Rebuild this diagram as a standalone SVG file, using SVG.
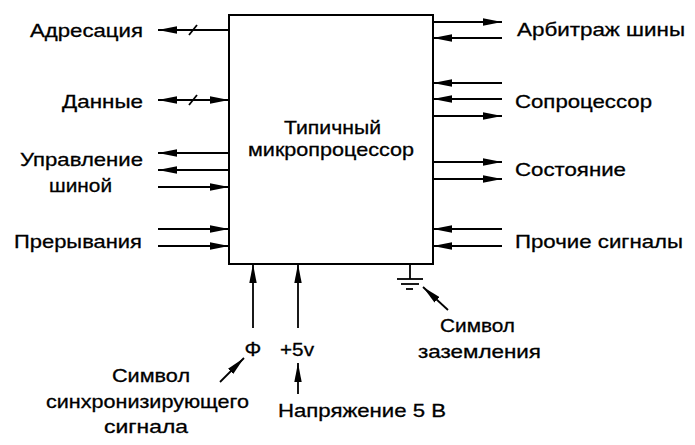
<svg xmlns="http://www.w3.org/2000/svg" width="695" height="445" viewBox="0 0 695 445">
<defs>
<marker id="ah" markerUnits="userSpaceOnUse" markerWidth="20" markerHeight="8" refX="19" refY="4" orient="auto-start-reverse">
<path d="M0,0.3 L19,4 L0,7.7 z" fill="#000"/>
</marker>
<style>
text{font-family:"Liberation Sans",Arial,sans-serif;font-size:19px;fill:#000;stroke:#000;stroke-width:0.3}
.c{text-anchor:middle}
line{stroke:#000;stroke-width:1.8;fill:none}
.a{marker-end:url(#ah)}
.d{marker-start:url(#ah);marker-end:url(#ah)}
</style>
</defs>
<rect width="695" height="445" fill="#fff"/>
<g id="cpu">
<rect x="229" y="15" width="204" height="249" fill="#fff" stroke="#000" stroke-width="2"/>
<text x="284" y="134" textLength="97" lengthAdjust="spacingAndGlyphs">Типичный</text>
<text x="248" y="156" textLength="166" lengthAdjust="spacingAndGlyphs">микропроцессор</text>
</g>
<g id="connectors">
<line class="a" x1="229" y1="30" x2="158" y2="30"/>
<line x1="189" y1="35" x2="197" y2="25"/>
<line class="d" x1="158" y1="100" x2="229" y2="100"/>
<line x1="189" y1="105" x2="197" y2="95"/>
<line class="a" x1="229" y1="153" x2="158" y2="153"/>
<line class="a" x1="229" y1="170" x2="158" y2="170"/>
<line class="a" x1="158" y1="187" x2="229" y2="187"/>
<line class="a" x1="158" y1="229" x2="229" y2="229"/>
<line class="a" x1="158" y1="246" x2="229" y2="246"/>
<line class="a" x1="433" y1="22" x2="502" y2="22"/>
<line class="a" x1="502" y1="38" x2="433" y2="38"/>
<line class="a" x1="502" y1="83" x2="433" y2="83"/>
<line class="a" x1="502" y1="99" x2="433" y2="99"/>
<line class="a" x1="433" y1="116" x2="502" y2="116"/>
<line class="a" x1="433" y1="162" x2="502" y2="162"/>
<line class="a" x1="433" y1="179" x2="502" y2="179"/>
<line class="a" x1="502" y1="229" x2="433" y2="229"/>
<line class="a" x1="502" y1="246" x2="433" y2="246"/>
<line class="a" x1="253" y1="328" x2="253" y2="264"/>
<line class="a" x1="298" y1="328" x2="298" y2="264"/>
<line class="a" x1="220" y1="382" x2="244" y2="358"/>
<line class="a" x1="298" y1="394" x2="298" y2="363"/>
<line class="a" x1="448" y1="310" x2="423" y2="287"/>
</g>
<g id="ground">
<line x1="410" y1="264" x2="410" y2="279"/>
<line x1="397" y1="279" x2="423" y2="279"/>
<line x1="401" y1="284" x2="419" y2="284"/>
<line x1="406" y1="289" x2="413" y2="289"/>
</g>
<g id="labels-left">
<text x="30" y="37" textLength="113" lengthAdjust="spacingAndGlyphs">Адресация</text>
<text x="62" y="108" textLength="81" lengthAdjust="spacingAndGlyphs">Данные</text>
<text x="20" y="166" textLength="123" lengthAdjust="spacingAndGlyphs">Управление</text>
<text x="49" y="192" textLength="63" lengthAdjust="spacingAndGlyphs">шиной</text>
<text x="14" y="248" textLength="128" lengthAdjust="spacingAndGlyphs">Прерывания</text>
</g>
<g id="labels-right">
<text x="517" y="36" textLength="168" lengthAdjust="spacingAndGlyphs">Арбитраж шины</text>
<text x="515" y="108" textLength="137" lengthAdjust="spacingAndGlyphs">Сопроцессор</text>
<text x="515" y="176" textLength="111" lengthAdjust="spacingAndGlyphs">Состояние</text>
<text x="515" y="248" textLength="168" lengthAdjust="spacingAndGlyphs">Прочие сигналы</text>
</g>
<g id="labels-bottom">
<text class="c" x="253" y="356" style="font-size:21px">Φ</text>
<text x="280" y="356" textLength="34" lengthAdjust="spacingAndGlyphs">+5v</text>
<text x="112" y="382" textLength="78" lengthAdjust="spacingAndGlyphs">Символ</text>
<text x="46" y="408" textLength="203" lengthAdjust="spacingAndGlyphs">синхронизирующего</text>
<text x="104" y="433" textLength="84" lengthAdjust="spacingAndGlyphs">сигнала</text>
<text x="278" y="417" textLength="168" lengthAdjust="spacingAndGlyphs">Напряжение 5 В</text>
<text x="440" y="332" textLength="75" lengthAdjust="spacingAndGlyphs">Символ</text>
<text x="418" y="358" textLength="123" lengthAdjust="spacingAndGlyphs">заземления</text>
</g>
</svg>
